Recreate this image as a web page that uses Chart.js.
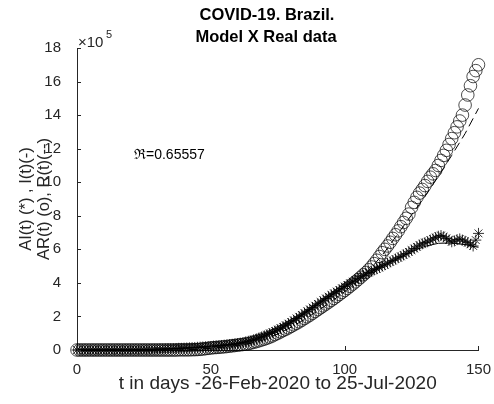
<!DOCTYPE html>
<html>
<head>
<meta charset="utf-8">
<script src="https://cdn.jsdelivr.net/npm/chart.js@4"></script>
<style>
  body { margin: 0; background: #fff; }
  canvas { display: block; }
</style>
</head>
<body>
<canvas id="covidChart" width="494" height="404"></canvas>
<script>
// days since 26-Feb-2020
const days = Array.from({ length: 151 }, (_, i) => i);

// AI(t) real active cases, x 10^5 (asterisks)
const activeReal = [
  0.00, 0.00, 0.00, 0.00, 0.00, 0.00, 0.00, 0.00, 0.00, 0.00,
  0.00, 0.00, 0.00, 0.00, 0.00, 0.00, 0.00, 0.00, 0.01, 0.01,
  0.01, 0.01, 0.01, 0.01, 0.02, 0.02, 0.02, 0.03, 0.03, 0.04,
  0.04, 0.05, 0.05, 0.06, 0.07, 0.07, 0.08, 0.09, 0.10, 0.10,
  0.11, 0.12, 0.13, 0.14, 0.15, 0.16, 0.17, 0.18, 0.19, 0.20,
  0.21, 0.23, 0.24, 0.25, 0.27, 0.29, 0.30, 0.32, 0.34, 0.36,
  0.38, 0.41, 0.44, 0.48, 0.52, 0.56, 0.61, 0.66, 0.72, 0.78,
  0.84, 0.91, 0.98, 1.05, 1.13, 1.21, 1.29, 1.38, 1.47, 1.57,
  1.67, 1.77, 1.88, 1.98, 2.09, 2.20, 2.31, 2.42, 2.53, 2.64,
  2.75, 2.86, 2.97, 3.07, 3.18, 3.28, 3.38, 3.48, 3.58, 3.68,
  3.78, 3.88, 3.98, 4.07, 4.17, 4.27, 4.36, 4.45, 4.54, 4.62,
  4.70, 4.77, 4.84, 4.92, 5.00, 5.08, 5.17, 5.25, 5.33, 5.42,
  5.50, 5.58, 5.67, 5.75, 5.85, 5.95, 6.05, 6.15, 6.25, 6.33,
  6.40, 6.45, 6.55, 6.62, 6.70, 6.78, 6.82, 6.75, 6.65, 6.55,
  6.45, 6.50, 6.58, 6.62, 6.55, 6.48, 6.40, 6.30, 6.20, 6.55,
  6.95
];

// AR(t) real recovered, x 10^5 (circles)
const recoveredReal = [
  0.00, 0.00, 0.00, 0.00, 0.00, 0.00, 0.00, 0.00, 0.00, 0.00,
  0.00, 0.00, 0.00, 0.00, 0.00, 0.00, 0.00, 0.00, 0.00, 0.00,
  0.00, 0.00, 0.00, 0.00, 0.00, 0.00, 0.00, 0.00, 0.00, 0.00,
  0.00, 0.00, 0.00, 0.00, 0.00, 0.00, 0.00, 0.00, 0.01, 0.01,
  0.01, 0.01, 0.01, 0.02, 0.02, 0.03, 0.04, 0.06, 0.08, 0.10,
  0.12, 0.14, 0.15, 0.16, 0.18, 0.19, 0.21, 0.23, 0.25, 0.27,
  0.29, 0.31, 0.33, 0.35, 0.38, 0.42, 0.46, 0.50, 0.55, 0.60,
  0.65, 0.71, 0.77, 0.84, 0.92, 1.00, 1.08, 1.16, 1.24, 1.32,
  1.41, 1.50, 1.59, 1.68, 1.78, 1.88, 1.98, 2.08, 2.19, 2.30,
  2.41, 2.52, 2.63, 2.74, 2.85, 2.96, 3.07, 3.19, 3.31, 3.43,
  3.55, 3.67, 3.80, 3.93, 4.06, 4.20, 4.34, 4.48, 4.62, 4.78,
  4.95, 5.15, 5.35, 5.57, 5.80, 6.00, 6.20, 6.42, 6.65, 6.87,
  7.10, 7.35, 7.60, 7.85, 8.10, 8.50, 8.80, 9.10, 9.35, 9.57,
  9.80, 10.05, 10.30, 10.50, 10.70, 11.00, 11.30, 11.60, 11.90, 12.25,
  12.60, 12.95, 13.30, 13.65, 14.00, 14.60, 15.20, 15.75, 16.30, 16.65,
  17.00
];

// model curves, every 5 days
const modelDays = [0, 5, 10, 15, 20, 25, 30, 35, 40, 45, 50, 55, 60, 65, 70, 75,
  80, 85, 90, 95, 100, 105, 110, 115, 120, 125, 130, 135, 140, 145, 150];
const activeModel = [0.00, 0.00, 0.00, 0.00, 0.01, 0.02, 0.04, 0.07, 0.11, 0.16,
  0.21, 0.28, 0.38, 0.56, 0.84, 1.20, 1.66, 2.18, 2.72, 3.26, 3.78, 4.25, 4.68,
  5.08, 5.48, 5.86, 6.18, 6.36, 6.38, 6.28, 6.12];
const recoveredModel = [0.00, 0.00, 0.00, 0.00, 0.00, 0.00, 0.00, 0.00, 0.01, 0.04,
  0.10, 0.18, 0.27, 0.40, 0.62, 0.96, 1.36, 1.82, 2.34, 2.88, 3.48, 4.12, 4.90,
  5.85, 6.95, 8.05, 9.15, 10.35, 11.60, 12.90, 14.40];

const xTicks = [0, 50, 100, 150];
const yTicks = [0, 2, 4, 6, 8, 10, 12, 14, 16, 18];

const axisColor = '#262626';
const fontFamily = '"Liberation Sans", Arial, sans-serif';

const toPoints = (xs, ys) => xs.map((x, i) => ({ x: x, y: ys[i] }));

// title, exponent, R label and inward ticks like matlab
const extras = {
  id: 'extras',
  afterDraw(chart) {
    const { ctx, chartArea, scales } = chart;
    ctx.save();
    ctx.strokeStyle = axisColor;
    ctx.lineWidth = 1;
    ctx.beginPath();
    xTicks.forEach(v => {
      const px = Math.round(scales.x.getPixelForValue(v)) + 0.5;
      ctx.moveTo(px, chartArea.bottom);
      ctx.lineTo(px, chartArea.bottom - 4);
    });
    yTicks.forEach(v => {
      const py = Math.round(scales.y.getPixelForValue(v)) + 0.5;
      ctx.moveTo(chartArea.left, py);
      ctx.lineTo(chartArea.left + 4, py);
    });
    ctx.stroke();

    ctx.fillStyle = '#000';
    ctx.textAlign = 'center';
    ctx.textBaseline = 'middle';
    ctx.font = 'bold 16.5px ' + fontFamily;
    ctx.fillText('COVID-19. Brazil.', 267, 15);
    ctx.fillText('Model X Real data', 266, 37);

    ctx.fillStyle = axisColor;
    ctx.textAlign = 'left';
    ctx.font = '15px ' + fontFamily;
    ctx.fillText('\u00d710', 78, 43);
    ctx.font = '11px ' + fontFamily;
    ctx.fillText('5', 106, 35);

    ctx.fillStyle = '#000';
    ctx.font = '14px ' + fontFamily;
    ctx.fillText('\u211c=0.65557', 134, 155);
    ctx.restore();
  }
};

new Chart(document.getElementById('covidChart'), {
  type: 'scatter',
  data: {
    datasets: [
      {
        label: 'AI(t)',
        data: toPoints(days, activeReal),
        pointStyle: 'star',
        pointRadius: 5.5,
        borderColor: '#000',
        borderWidth: 0.8,
        showLine: false,
        clip: false,
        order: 1
      },
      {
        label: 'I(t)',
        data: toPoints(modelDays, activeModel),
        showLine: true,
        pointRadius: 0,
        borderColor: '#000',
        borderWidth: 1,
        clip: false,
        order: 2
      },
      {
        label: 'AR(t)',
        data: toPoints(days, recoveredReal),
        pointStyle: 'circle',
        pointRadius: 6.3,
        backgroundColor: 'rgba(0,0,0,0)',
        borderColor: '#000',
        borderWidth: 0.7,
        showLine: false,
        clip: false,
        order: 3
      },
      {
        label: 'R(t)',
        data: toPoints(modelDays, recoveredModel),
        showLine: true,
        pointRadius: 0,
        borderColor: '#000',
        borderWidth: 1,
        borderDash: [9, 5],
        clip: false,
        order: 4
      }
    ]
  },
  options: {
    responsive: false,
    animation: false,
    layout: { padding: { top: 48, right: 12, left: 0, bottom: 0 } },
    plugins: {
      legend: { display: false },
      tooltip: { enabled: false }
    },
    scales: {
      x: {
        type: 'linear',
        min: 0,
        max: 150,
        afterFit: s => { s.height = 54; },
        afterBuildTicks: s => { s.ticks = xTicks.map(v => ({ value: v })); },
        ticks: { color: axisColor, font: { family: fontFamily, size: 15 }, padding: 3, maxRotation: 0 },
        grid: { display: false },
        border: { color: axisColor, width: 1 },
        title: {
          display: true,
          text: 't in days -26-Feb-2020 to 25-Jul-2020',
          color: axisColor,
          font: { family: fontFamily, size: 19, lineHeight: 1.0 },
          padding: { top: 0, bottom: 11 }
        }
      },
      y: {
        min: 0,
        max: 18,
        afterFit: s => { s.width = 77; },
        afterBuildTicks: s => { s.ticks = yTicks.map(v => ({ value: v })); },
        ticks: { color: axisColor, font: { family: fontFamily, size: 15 }, padding: 8 },
        grid: { display: false },
        border: { color: axisColor, width: 1 },
        title: {
          display: true,
          text: ['AI(t) (*) , I(t)(-)', 'AR(t) (o), R(t)(--)'],
          color: axisColor,
          font: { family: fontFamily, size: 16.5, lineHeight: 1.1 },
          padding: { top: 17, bottom: 0 }
        }
      }
    }
  },
  plugins: [extras]
});
</script>
</body>
</html>
